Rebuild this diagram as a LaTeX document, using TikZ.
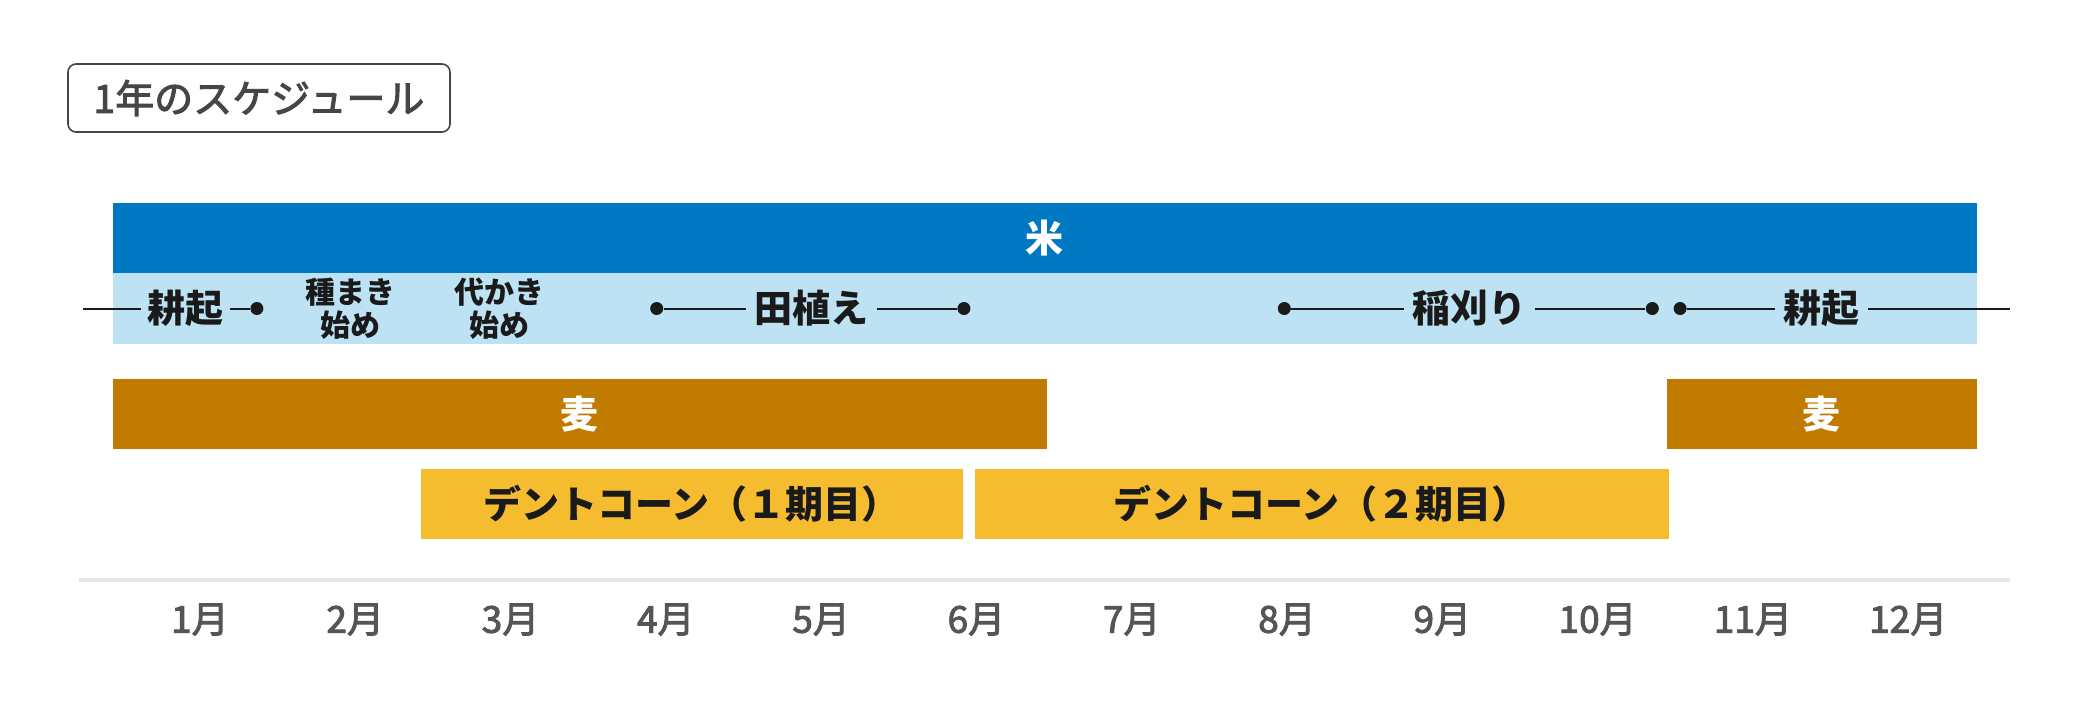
\documentclass[tikz,border=0pt]{standalone}
\usepackage{fontspec}
\newfontfamily\jp{Noto Sans CJK JP}
\newfontfamily\jpmed{Noto Sans CJK JP}[FakeBold=2.5]
\definecolor{riceblue}{RGB}{0,121,194}
\definecolor{lightblue}{RGB}{189,226,243}
\definecolor{wheat}{RGB}{193,122,0}
\definecolor{corn}{RGB}{245,188,48}
\definecolor{ink}{RGB}{26,26,26}
\definecolor{axisgray}{RGB}{230,230,230}
\definecolor{monthgray}{RGB}{85,85,85}
\definecolor{titlegray}{RGB}{70,70,70}
\begin{document}
\begin{tikzpicture}[x=0.5pt,y=-0.5pt,
  bartext/.style={font=\jp\bfseries\fontsize{19pt}{21pt}\selectfont},
  evt/.style={font=\jp\bfseries\fontsize{19pt}{21pt}\selectfont,text=ink,inner xsep=3pt,inner ysep=0pt},
  evtsmall/.style={font=\jp\bfseries\fontsize{15pt}{16.5pt}\selectfont,text=ink,align=center,inner sep=0pt},
  tl/.style={draw=ink,line width=1pt},
  dotm/.style={circle,fill=ink,inner sep=0pt,minimum size=6.5pt},
  month/.style={font=\jpmed\fontsize{18.5pt}{20pt}\selectfont,text=monthgray}]
\useasboundingbox (0,0) rectangle (2076,702);
\fill[white] (0,0) rectangle (2076,702);
% title
\node[draw=titlegray,line width=0.8pt,rounded corners=4pt,minimum width=191pt,minimum height=34pt,inner sep=0pt,
      font=\jpmed\fontsize{19.5pt}{21pt}\selectfont,text=titlegray] (title) at (259,98) {1年のスケジュール};
% rice bars
\fill[riceblue] (112.5,202.6) rectangle (1976.7,272.7);
\fill[lightblue] (112.5,272.7) rectangle (1976.7,344.2);
\node[bartext,text=white] (rice) at (1044.6,238) {米};
% timeline
\coordinate (l0) at (83.4,308.5);
\node[evt] (k1) at (185.4,308.5) {耕起};
\node[dotm] (d1) at (256.9,308.5) {};
\draw[tl] (l0) -- (k1);
\draw[tl] (k1) -- (d1);
\node[evtsmall] (tane) at (350.9,308.5) {種まき\\始め};
\node[evtsmall] (shiro) at (499,308.5) {代かき\\始め};
\node[dotm] (d2) at (656.7,308.5) {};
\node[evt,inner xsep=4pt] (taue) at (811.6,308.5) {田植え};
\node[dotm] (d3) at (963.9,308.5) {};
\draw[tl] (d2) -- (taue);
\draw[tl] (taue) -- (d3);
\node[dotm] (d4) at (1284.3,308.5) {};
\node[evt,inner xsep=4pt] (ine) at (1469.6,308.5) {稲刈り};
\node[dotm] (d5) at (1652.3,308.5) {};
\draw[tl] (d4) -- (ine);
\draw[tl] (ine) -- (d5);
\node[dotm] (d6) at (1680.1,308.5) {};
\node[evt,inner xsep=4pt] (k2) at (1821.8,308.5) {耕起};
\coordinate (l1) at (2009.8,308.5);
\draw[tl] (d6) -- (k2);
\draw[tl] (k2) -- (l1);
% wheat
\fill[wheat] (112.5,378.7) rectangle (1047.3,448.8);
\node[bartext,text=white] (mugi1) at (579.9,413.7) {麦};
\fill[wheat] (1667,378.7) rectangle (1976.7,448.8);
\node[bartext,text=white] (mugi2) at (1821.8,413.7) {麦};
% corn
\fill[corn] (421,468.7) rectangle (962.5,538.9);
\node[bartext,text=ink] (corn1) at (691.7,503.8) {デントコーン（１期目）};
\fill[corn] (974.5,468.7) rectangle (1669,538.9);
\node[bartext,text=ink] (corn2) at (1321.8,503.8) {デントコーン（２期目）};
% axis
\coordinate (a0) at (79.4,580);
\coordinate (a1) at (2009.8,580);
\draw[axisgray,line width=2pt] (a0) -- (a1);
\foreach \m [count=\i from 0] in {1,...,12}{
  \node[month] (m\m) at (199.9+155.3*\i,619.6) {\m 月};
}
\end{tikzpicture}
\end{document}
